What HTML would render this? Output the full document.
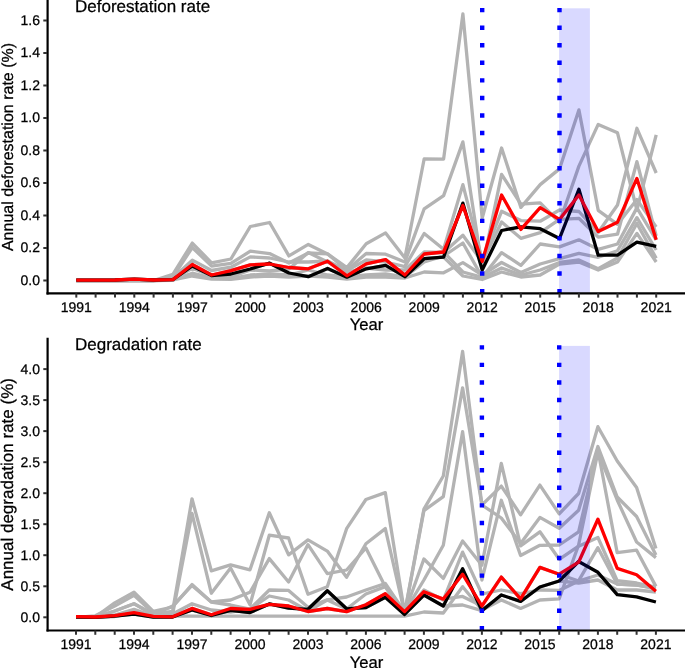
<!DOCTYPE html>
<html><head><meta charset="utf-8"><style>
html,body{margin:0;padding:0;background:#fff;}
body{width:685px;height:668px;overflow:hidden;}
svg{display:block;will-change:transform;}
text{font-family:"Liberation Sans",sans-serif;fill:#000;text-rendering:geometricPrecision;stroke:#000;stroke-width:0.25px;}
.tk{font-size:14px;fill:#000;}
.tt{font-size:17px;}
.ax{font-size:16px;}
</style></head><body>
<svg width="685" height="668" viewBox="0 0 685 668">
<rect width="685" height="668" fill="#fff"/>
<polyline points="76.3,280.5 95.6,280.5 115.0,280.5 134.3,280.0 153.6,280.5 172.9,274.3 192.3,243.1 211.6,262.8 230.9,259.0 250.3,226.5 269.6,222.5 288.9,255.9 308.3,244.4 327.6,253.9 346.9,267.6 366.2,243.8 385.6,232.9 404.9,258.0 424.2,158.8 443.6,159.1 462.9,14.0 482.2,218.0 501.6,148.0 520.9,207.4 540.2,184.6 559.5,168.9 578.9,109.9 598.2,210.3 617.5,224.3 636.9,199.6 656.2,226.9" fill="none" stroke="#b3b3b3" stroke-width="3.3" stroke-linejoin="round" stroke-linecap="butt"/>
<polyline points="76.3,280.5 95.6,280.5 115.0,280.5 134.3,280.5 153.6,280.5 172.9,277.0 192.3,247.5 211.6,266.1 230.9,263.4 250.3,251.2 269.6,253.6 288.9,263.0 308.3,253.0 327.6,253.9 346.9,270.0 366.2,253.5 385.6,254.2 404.9,262.0 424.2,208.8 443.6,195.6 462.9,141.9 482.2,268.0 501.6,174.4 520.9,204.2 540.2,202.8 559.5,222.5 578.9,166.1 598.2,124.4 617.5,132.8 636.9,210.0 656.2,134.8" fill="none" stroke="#b3b3b3" stroke-width="3.3" stroke-linejoin="round" stroke-linecap="butt"/>
<polyline points="76.3,280.5 95.6,280.5 115.0,280.5 134.3,280.5 153.6,280.5 172.9,278.0 192.3,260.1 211.6,270.5 230.9,267.2 250.3,256.9 269.6,258.0 288.9,262.0 308.3,262.0 327.6,261.0 346.9,270.5 366.2,260.0 385.6,262.0 404.9,266.6 424.2,233.5 443.6,249.2 462.9,184.6 482.2,260.0 501.6,211.3 520.9,220.6 540.2,221.2 559.5,210.0 578.9,211.5 598.2,232.5 617.5,205.0 636.9,128.3 656.2,173.0" fill="none" stroke="#b3b3b3" stroke-width="3.3" stroke-linejoin="round" stroke-linecap="butt"/>
<polyline points="76.3,280.5 95.6,280.5 115.0,280.5 134.3,280.5 153.6,280.5 172.9,279.0 192.3,268.3 211.6,276.0 230.9,277.0 250.3,270.0 269.6,271.0 288.9,269.0 308.3,252.6 327.6,262.0 346.9,272.0 366.2,268.0 385.6,270.0 404.9,270.0 424.2,252.0 443.6,252.5 462.9,235.2 482.2,262.0 501.6,222.0 520.9,238.3 540.2,232.7 559.5,219.3 578.9,218.3 598.2,237.1 617.5,234.2 636.9,161.7 656.2,235.8" fill="none" stroke="#b3b3b3" stroke-width="3.3" stroke-linejoin="round" stroke-linecap="butt"/>
<polyline points="76.3,280.5 95.6,280.5 115.0,280.5 134.3,280.5 153.6,280.5 172.9,279.5 192.3,273.2 211.6,278.0 230.9,278.5 250.3,275.0 269.6,274.0 288.9,275.0 308.3,270.0 327.6,275.0 346.9,277.0 366.2,275.0 385.6,274.0 404.9,277.0 424.2,262.0 443.6,256.0 462.9,243.0 482.2,277.2 501.6,252.6 520.9,265.4 540.2,244.0 559.5,246.9 578.9,239.8 598.2,249.3 617.5,244.0 636.9,207.9 656.2,240.0" fill="none" stroke="#b3b3b3" stroke-width="3.3" stroke-linejoin="round" stroke-linecap="butt"/>
<polyline points="76.3,280.5 95.6,280.5 115.0,280.5 134.3,280.5 153.6,280.5 172.9,280.0 192.3,276.0 211.6,279.0 230.9,279.3 250.3,277.0 269.6,276.0 288.9,277.0 308.3,276.0 327.6,277.0 346.9,279.0 366.2,277.0 385.6,277.0 404.9,278.0 424.2,272.0 443.6,272.8 462.9,262.6 482.2,275.0 501.6,262.5 520.9,272.5 540.2,264.0 559.5,258.6 578.9,253.3 598.2,257.3 617.5,250.7 636.9,217.7 656.2,250.0" fill="none" stroke="#b3b3b3" stroke-width="3.3" stroke-linejoin="round" stroke-linecap="butt"/>
<polyline points="76.3,280.2 95.6,280.2 115.0,280.0 134.3,279.2 153.6,280.0 172.9,279.6 192.3,264.5 211.6,275.0 230.9,270.6 250.3,264.8 269.6,264.0 288.9,267.5 308.3,268.8 327.6,261.2 346.9,275.8 366.2,263.9 385.6,259.6 404.9,275.0 424.2,254.0 443.6,252.0 462.9,272.0 482.2,277.4 501.6,268.0 520.9,275.0 540.2,270.0 559.5,262.5 578.9,260.0 598.2,268.8 617.5,258.0 636.9,223.5 656.2,258.3" fill="none" stroke="#b3b3b3" stroke-width="3.3" stroke-linejoin="round" stroke-linecap="butt"/>
<polyline points="76.3,280.5 95.6,280.5 115.0,280.4 134.3,280.0 153.6,280.5 172.9,280.4 192.3,266.0 211.6,275.5 230.9,274.0 250.3,269.0 269.6,263.2 288.9,273.0 308.3,276.7 327.6,268.5 346.9,277.2 366.2,268.8 385.6,265.4 404.9,276.7 424.2,258.7 443.6,257.1 462.9,276.0 482.2,279.5 501.6,272.0 520.9,277.0 540.2,275.0 559.5,264.0 578.9,262.0 598.2,270.0 617.5,262.0 636.9,233.4 656.2,262.0" fill="none" stroke="#b3b3b3" stroke-width="3.3" stroke-linejoin="round" stroke-linecap="butt"/>
<polyline points="76.3,280.2 95.6,280.2 115.0,280.0 134.3,279.2 153.6,280.0 172.9,279.6 192.3,266.0 211.6,275.5 230.9,274.0 250.3,269.0 269.6,263.2 288.9,273.0 308.3,276.7 327.6,268.5 346.9,277.2 366.2,268.8 385.6,265.4 404.9,276.7 424.2,258.7 443.6,257.1 462.9,203.1 482.2,270.0 501.6,230.5 520.9,226.8 540.2,228.7 559.5,238.5 578.9,189.3 598.2,255.2 617.5,255.2 636.9,242.1 656.2,246.4" fill="none" stroke="#000000" stroke-width="3.3" stroke-linejoin="round" stroke-linecap="butt"/>
<polyline points="76.3,280.2 95.6,280.2 115.0,280.0 134.3,279.2 153.6,280.0 172.9,279.6 192.3,264.5 211.6,275.0 230.9,270.6 250.3,264.8 269.6,264.0 288.9,267.5 308.3,268.8 327.6,261.2 346.9,275.8 366.2,263.9 385.6,259.6 404.9,275.0 424.2,254.0 443.6,252.0 462.9,205.5 482.2,261.5 501.6,195.0 520.9,229.4 540.2,207.6 559.5,219.5 578.9,195.0 598.2,231.4 617.5,222.2 636.9,178.4 656.2,239.8" fill="none" stroke="#ff0000" stroke-width="3.3" stroke-linejoin="round" stroke-linecap="butt"/>
<rect x="559.1" y="8.3" width="30.8" height="285.0" fill="rgba(0,0,255,0.15)"/>
<line x1="482.2" y1="293.3" x2="482.2" y2="-5.0" stroke="#0000ff" stroke-width="4.4" stroke-dasharray="4.4 13.160"/>
<line x1="559.5" y1="293.3" x2="559.5" y2="-5.0" stroke="#0000ff" stroke-width="4.4" stroke-dasharray="4.4 13.160"/>
<line x1="47.6" y1="-5.0" x2="47.6" y2="294.4" stroke="#000" stroke-width="2.2"/>
<line x1="46.5" y1="293.3" x2="685" y2="293.3" stroke="#000" stroke-width="2.2"/>
<line x1="43.3" y1="280.5" x2="47" y2="280.5" stroke="#333" stroke-width="2"/>
<text x="40" y="284.9" text-anchor="end" class="tk">0.0</text>
<line x1="43.3" y1="248.0" x2="47" y2="248.0" stroke="#333" stroke-width="2"/>
<text x="40" y="252.4" text-anchor="end" class="tk">0.2</text>
<line x1="43.3" y1="215.5" x2="47" y2="215.5" stroke="#333" stroke-width="2"/>
<text x="40" y="219.9" text-anchor="end" class="tk">0.4</text>
<line x1="43.3" y1="183.0" x2="47" y2="183.0" stroke="#333" stroke-width="2"/>
<text x="40" y="187.4" text-anchor="end" class="tk">0.6</text>
<line x1="43.3" y1="150.5" x2="47" y2="150.5" stroke="#333" stroke-width="2"/>
<text x="40" y="154.9" text-anchor="end" class="tk">0.8</text>
<line x1="43.3" y1="118.0" x2="47" y2="118.0" stroke="#333" stroke-width="2"/>
<text x="40" y="122.4" text-anchor="end" class="tk">1.0</text>
<line x1="43.3" y1="85.5" x2="47" y2="85.5" stroke="#333" stroke-width="2"/>
<text x="40" y="89.9" text-anchor="end" class="tk">1.2</text>
<line x1="43.3" y1="53.0" x2="47" y2="53.0" stroke="#333" stroke-width="2"/>
<text x="40" y="57.4" text-anchor="end" class="tk">1.4</text>
<line x1="43.3" y1="20.5" x2="47" y2="20.5" stroke="#333" stroke-width="2"/>
<text x="40" y="24.9" text-anchor="end" class="tk">1.6</text>
<line x1="76.3" y1="293.3" x2="76.3" y2="297.6" stroke="#333" stroke-width="2"/>
<text x="76.3" y="311.6" text-anchor="middle" class="tk">1991</text>
<line x1="95.6" y1="293.3" x2="95.6" y2="297.6" stroke="#333" stroke-width="2"/>
<line x1="115.0" y1="293.3" x2="115.0" y2="297.6" stroke="#333" stroke-width="2"/>
<line x1="134.3" y1="293.3" x2="134.3" y2="297.6" stroke="#333" stroke-width="2"/>
<text x="134.3" y="311.6" text-anchor="middle" class="tk">1994</text>
<line x1="153.6" y1="293.3" x2="153.6" y2="297.6" stroke="#333" stroke-width="2"/>
<line x1="172.9" y1="293.3" x2="172.9" y2="297.6" stroke="#333" stroke-width="2"/>
<line x1="192.3" y1="293.3" x2="192.3" y2="297.6" stroke="#333" stroke-width="2"/>
<text x="192.3" y="311.6" text-anchor="middle" class="tk">1997</text>
<line x1="211.6" y1="293.3" x2="211.6" y2="297.6" stroke="#333" stroke-width="2"/>
<line x1="230.9" y1="293.3" x2="230.9" y2="297.6" stroke="#333" stroke-width="2"/>
<line x1="250.3" y1="293.3" x2="250.3" y2="297.6" stroke="#333" stroke-width="2"/>
<text x="250.3" y="311.6" text-anchor="middle" class="tk">2000</text>
<line x1="269.6" y1="293.3" x2="269.6" y2="297.6" stroke="#333" stroke-width="2"/>
<line x1="288.9" y1="293.3" x2="288.9" y2="297.6" stroke="#333" stroke-width="2"/>
<line x1="308.3" y1="293.3" x2="308.3" y2="297.6" stroke="#333" stroke-width="2"/>
<text x="308.3" y="311.6" text-anchor="middle" class="tk">2003</text>
<line x1="327.6" y1="293.3" x2="327.6" y2="297.6" stroke="#333" stroke-width="2"/>
<line x1="346.9" y1="293.3" x2="346.9" y2="297.6" stroke="#333" stroke-width="2"/>
<line x1="366.2" y1="293.3" x2="366.2" y2="297.6" stroke="#333" stroke-width="2"/>
<text x="366.2" y="311.6" text-anchor="middle" class="tk">2006</text>
<line x1="385.6" y1="293.3" x2="385.6" y2="297.6" stroke="#333" stroke-width="2"/>
<line x1="404.9" y1="293.3" x2="404.9" y2="297.6" stroke="#333" stroke-width="2"/>
<line x1="424.2" y1="293.3" x2="424.2" y2="297.6" stroke="#333" stroke-width="2"/>
<text x="424.2" y="311.6" text-anchor="middle" class="tk">2009</text>
<line x1="443.6" y1="293.3" x2="443.6" y2="297.6" stroke="#333" stroke-width="2"/>
<line x1="462.9" y1="293.3" x2="462.9" y2="297.6" stroke="#333" stroke-width="2"/>
<line x1="482.2" y1="293.3" x2="482.2" y2="297.6" stroke="#333" stroke-width="2"/>
<text x="482.2" y="311.6" text-anchor="middle" class="tk">2012</text>
<line x1="501.6" y1="293.3" x2="501.6" y2="297.6" stroke="#333" stroke-width="2"/>
<line x1="520.9" y1="293.3" x2="520.9" y2="297.6" stroke="#333" stroke-width="2"/>
<line x1="540.2" y1="293.3" x2="540.2" y2="297.6" stroke="#333" stroke-width="2"/>
<text x="540.2" y="311.6" text-anchor="middle" class="tk">2015</text>
<line x1="559.5" y1="293.3" x2="559.5" y2="297.6" stroke="#333" stroke-width="2"/>
<line x1="578.9" y1="293.3" x2="578.9" y2="297.6" stroke="#333" stroke-width="2"/>
<line x1="598.2" y1="293.3" x2="598.2" y2="297.6" stroke="#333" stroke-width="2"/>
<text x="598.2" y="311.6" text-anchor="middle" class="tk">2018</text>
<line x1="617.5" y1="293.3" x2="617.5" y2="297.6" stroke="#333" stroke-width="2"/>
<line x1="636.9" y1="293.3" x2="636.9" y2="297.6" stroke="#333" stroke-width="2"/>
<line x1="656.2" y1="293.3" x2="656.2" y2="297.6" stroke="#333" stroke-width="2"/>
<text x="656.2" y="311.6" text-anchor="middle" class="tk">2021</text>
<text x="75" y="12.3" class="tt">Deforestation rate</text>
<text x="366.6" y="330.3" text-anchor="middle" class="ax" style="font-size:16.6px">Year</text>
<text transform="translate(13.0,147.0) rotate(-90)" text-anchor="middle" style="font-size:16px" class="ax">Annual deforestation rate (%)</text>
<polyline points="76.0,617.3 95.3,617.0 114.7,611.0 134.0,603.7 153.3,614.0 172.6,611.4 192.0,498.8 211.3,570.8 230.6,564.9 250.0,569.8 269.3,512.8 288.6,554.9 308.0,539.9 327.3,551.1 346.6,577.3 365.9,543.8 385.3,528.6 404.6,613.0 423.9,559.0 443.3,578.4 462.6,541.0 481.9,565.2 501.3,463.4 520.6,545.9 539.9,531.8 559.2,559.3 578.6,546.2 597.9,537.5 617.2,580.7 636.6,583.0 655.9,587.0" fill="none" stroke="#b3b3b3" stroke-width="3.3" stroke-linejoin="round" stroke-linecap="butt"/>
<polyline points="76.0,617.3 95.3,615.8 114.7,606.1 134.0,595.4 153.3,613.0 172.6,614.2 192.0,513.4 211.3,593.2 230.6,567.9 250.0,604.8 269.3,535.2 288.6,538.0 308.0,594.2 327.3,586.7 346.6,528.7 365.9,499.5 385.3,492.6 404.6,613.0 423.9,509.2 443.3,476.0 462.6,351.5 481.9,505.0 501.3,486.1 520.6,514.8 539.9,485.1 559.2,513.9 578.6,493.5 597.9,426.7 617.2,461.0 636.6,487.4 655.9,548.4" fill="none" stroke="#b3b3b3" stroke-width="3.3" stroke-linejoin="round" stroke-linecap="butt"/>
<polyline points="76.0,617.3 95.3,617.0 114.7,602.9 134.0,592.2 153.3,611.4 172.6,607.0 192.0,584.5 211.3,601.9 230.6,600.0 250.0,592.2 269.3,558.6 288.6,582.0 308.0,544.6 327.3,573.6 346.6,570.0 365.9,548.0 385.3,586.7 404.6,614.0 423.9,510.6 443.3,496.7 462.6,387.8 481.9,505.0 501.3,518.0 520.6,543.5 539.9,517.4 559.2,528.2 578.6,510.3 597.9,446.5 617.2,497.0 636.6,516.5 655.9,555.0" fill="none" stroke="#b3b3b3" stroke-width="3.3" stroke-linejoin="round" stroke-linecap="butt"/>
<polyline points="76.0,617.3 95.3,617.3 114.7,611.0 134.0,603.7 153.3,615.0 172.6,606.1 192.0,585.4 211.3,602.0 230.6,605.0 250.0,609.0 269.3,590.0 288.6,590.4 308.0,607.3 327.3,599.8 346.6,597.0 365.9,590.0 385.3,583.5 404.6,612.0 423.9,580.0 443.3,545.2 462.6,431.7 481.9,580.0 501.3,500.3 520.6,555.5 539.9,545.3 559.2,545.0 578.6,531.8 597.9,450.0 617.2,552.7 636.6,550.2 655.9,586.4" fill="none" stroke="#b3b3b3" stroke-width="3.3" stroke-linejoin="round" stroke-linecap="butt"/>
<polyline points="76.0,617.3 95.3,617.3 114.7,615.0 134.0,609.3 153.3,616.0 172.6,614.0 192.0,603.7 211.3,610.0 230.6,612.0 250.0,609.0 269.3,596.0 288.6,600.0 308.0,611.0 327.3,600.0 346.6,609.0 365.9,594.0 385.3,586.6 404.6,614.0 423.9,590.0 443.3,600.0 462.6,552.1 481.9,594.0 501.3,590.0 520.6,593.6 539.9,590.0 559.2,590.4 578.6,580.9 597.9,547.7 617.2,584.0 636.6,585.0 655.9,589.0" fill="none" stroke="#b3b3b3" stroke-width="3.3" stroke-linejoin="round" stroke-linecap="butt"/>
<polyline points="76.0,617.3 95.3,617.3 114.7,616.5 134.0,613.0 153.3,617.0 172.6,616.0 192.0,616.2 211.3,616.2 230.6,616.2 250.0,616.2 269.3,616.2 288.6,616.2 308.0,616.2 327.3,616.2 346.6,616.2 365.9,616.2 385.3,616.2 404.6,616.2 423.9,612.0 443.3,613.0 462.6,586.7 481.9,610.0 501.3,600.0 520.6,608.4 539.9,600.0 559.2,598.8 578.6,545.0 597.9,452.0 617.2,500.0 636.6,542.0 655.9,557.6" fill="none" stroke="#b3b3b3" stroke-width="3.3" stroke-linejoin="round" stroke-linecap="butt"/>
<polyline points="76.0,616.6 95.3,617.0 114.7,615.6 134.0,612.7 153.3,616.4 172.6,616.8 192.0,608.4 211.3,614.8 230.6,608.5 250.0,609.3 269.3,604.3 288.6,606.0 308.0,611.5 327.3,608.5 346.6,611.6 365.9,604.7 385.3,593.6 404.6,611.6 423.9,591.7 443.3,599.1 462.6,596.4 481.9,606.0 501.3,577.1 520.6,598.8 539.9,567.4 559.2,574.2 578.6,581.0 597.9,575.0 617.2,584.0 636.6,585.0 655.9,588.0" fill="none" stroke="#b3b3b3" stroke-width="3.3" stroke-linejoin="round" stroke-linecap="butt"/>
<polyline points="76.0,617.0 95.3,617.3 114.7,616.0 134.0,614.0 153.3,617.0 172.6,617.0 192.0,610.0 211.3,615.5 230.6,610.4 250.0,612.6 269.3,603.9 288.6,608.2 308.0,609.3 327.3,590.7 346.6,608.8 365.9,607.5 385.3,597.2 404.6,614.4 423.9,595.0 443.3,606.0 462.6,605.0 481.9,610.6 501.3,595.0 520.6,601.4 539.9,587.0 559.2,581.0 578.6,583.0 597.9,580.0 617.2,590.0 636.6,590.0 655.9,592.0" fill="none" stroke="#b3b3b3" stroke-width="3.3" stroke-linejoin="round" stroke-linecap="butt"/>
<polyline points="76.0,617.0 95.3,617.3 114.7,616.0 134.0,614.0 153.3,617.0 172.6,617.0 192.0,610.0 211.3,615.5 230.6,610.4 250.0,612.6 269.3,603.9 288.6,608.2 308.0,609.3 327.3,590.7 346.6,608.8 365.9,607.5 385.3,597.2 404.6,614.4 423.9,595.0 443.3,606.0 462.6,568.7 481.9,610.6 501.3,595.0 520.6,601.4 539.9,587.0 559.2,581.0 578.6,561.5 597.9,572.3 617.2,594.6 636.6,596.8 655.9,602.0" fill="none" stroke="#000000" stroke-width="3.3" stroke-linejoin="round" stroke-linecap="butt"/>
<polyline points="76.0,616.6 95.3,617.0 114.7,615.6 134.0,612.7 153.3,616.4 172.6,616.8 192.0,608.4 211.3,614.8 230.6,608.5 250.0,609.3 269.3,604.3 288.6,606.0 308.0,611.5 327.3,608.5 346.6,611.6 365.9,604.7 385.3,593.6 404.6,611.6 423.9,591.7 443.3,599.1 462.6,574.2 481.9,606.0 501.3,577.1 520.6,598.8 539.9,567.4 559.2,574.2 578.6,562.2 597.9,519.2 617.2,568.4 636.6,574.7 655.9,591.3" fill="none" stroke="#ff0000" stroke-width="3.3" stroke-linejoin="round" stroke-linecap="butt"/>
<rect x="559.1" y="345.9" width="30.8" height="284.6" fill="rgba(0,0,255,0.15)"/>
<line x1="481.9" y1="630.5" x2="481.9" y2="337.7" stroke="#0000ff" stroke-width="4.4" stroke-dasharray="4.4 13.160"/>
<line x1="559.2" y1="630.5" x2="559.2" y2="337.7" stroke="#0000ff" stroke-width="4.4" stroke-dasharray="4.4 13.160"/>
<line x1="47.6" y1="337.7" x2="47.6" y2="631.6" stroke="#000" stroke-width="2.2"/>
<line x1="46.5" y1="630.5" x2="685" y2="630.5" stroke="#000" stroke-width="2.2"/>
<line x1="43.3" y1="617.3" x2="47" y2="617.3" stroke="#333" stroke-width="2"/>
<text x="40" y="621.7" text-anchor="end" class="tk">0.0</text>
<line x1="43.3" y1="586.3" x2="47" y2="586.3" stroke="#333" stroke-width="2"/>
<text x="40" y="590.7" text-anchor="end" class="tk">0.5</text>
<line x1="43.3" y1="555.2" x2="47" y2="555.2" stroke="#333" stroke-width="2"/>
<text x="40" y="559.6" text-anchor="end" class="tk">1.0</text>
<line x1="43.3" y1="524.2" x2="47" y2="524.2" stroke="#333" stroke-width="2"/>
<text x="40" y="528.6" text-anchor="end" class="tk">1.5</text>
<line x1="43.3" y1="493.2" x2="47" y2="493.2" stroke="#333" stroke-width="2"/>
<text x="40" y="497.6" text-anchor="end" class="tk">2.0</text>
<line x1="43.3" y1="462.2" x2="47" y2="462.2" stroke="#333" stroke-width="2"/>
<text x="40" y="466.6" text-anchor="end" class="tk">2.5</text>
<line x1="43.3" y1="431.1" x2="47" y2="431.1" stroke="#333" stroke-width="2"/>
<text x="40" y="435.5" text-anchor="end" class="tk">3.0</text>
<line x1="43.3" y1="400.1" x2="47" y2="400.1" stroke="#333" stroke-width="2"/>
<text x="40" y="404.5" text-anchor="end" class="tk">3.5</text>
<line x1="43.3" y1="369.1" x2="47" y2="369.1" stroke="#333" stroke-width="2"/>
<text x="40" y="373.5" text-anchor="end" class="tk">4.0</text>
<line x1="76.0" y1="630.5" x2="76.0" y2="634.8" stroke="#333" stroke-width="2"/>
<text x="76.0" y="648.8" text-anchor="middle" class="tk">1991</text>
<line x1="95.3" y1="630.5" x2="95.3" y2="634.8" stroke="#333" stroke-width="2"/>
<line x1="114.7" y1="630.5" x2="114.7" y2="634.8" stroke="#333" stroke-width="2"/>
<line x1="134.0" y1="630.5" x2="134.0" y2="634.8" stroke="#333" stroke-width="2"/>
<text x="134.0" y="648.8" text-anchor="middle" class="tk">1994</text>
<line x1="153.3" y1="630.5" x2="153.3" y2="634.8" stroke="#333" stroke-width="2"/>
<line x1="172.6" y1="630.5" x2="172.6" y2="634.8" stroke="#333" stroke-width="2"/>
<line x1="192.0" y1="630.5" x2="192.0" y2="634.8" stroke="#333" stroke-width="2"/>
<text x="192.0" y="648.8" text-anchor="middle" class="tk">1997</text>
<line x1="211.3" y1="630.5" x2="211.3" y2="634.8" stroke="#333" stroke-width="2"/>
<line x1="230.6" y1="630.5" x2="230.6" y2="634.8" stroke="#333" stroke-width="2"/>
<line x1="250.0" y1="630.5" x2="250.0" y2="634.8" stroke="#333" stroke-width="2"/>
<text x="250.0" y="648.8" text-anchor="middle" class="tk">2000</text>
<line x1="269.3" y1="630.5" x2="269.3" y2="634.8" stroke="#333" stroke-width="2"/>
<line x1="288.6" y1="630.5" x2="288.6" y2="634.8" stroke="#333" stroke-width="2"/>
<line x1="308.0" y1="630.5" x2="308.0" y2="634.8" stroke="#333" stroke-width="2"/>
<text x="308.0" y="648.8" text-anchor="middle" class="tk">2003</text>
<line x1="327.3" y1="630.5" x2="327.3" y2="634.8" stroke="#333" stroke-width="2"/>
<line x1="346.6" y1="630.5" x2="346.6" y2="634.8" stroke="#333" stroke-width="2"/>
<line x1="365.9" y1="630.5" x2="365.9" y2="634.8" stroke="#333" stroke-width="2"/>
<text x="365.9" y="648.8" text-anchor="middle" class="tk">2006</text>
<line x1="385.3" y1="630.5" x2="385.3" y2="634.8" stroke="#333" stroke-width="2"/>
<line x1="404.6" y1="630.5" x2="404.6" y2="634.8" stroke="#333" stroke-width="2"/>
<line x1="423.9" y1="630.5" x2="423.9" y2="634.8" stroke="#333" stroke-width="2"/>
<text x="423.9" y="648.8" text-anchor="middle" class="tk">2009</text>
<line x1="443.3" y1="630.5" x2="443.3" y2="634.8" stroke="#333" stroke-width="2"/>
<line x1="462.6" y1="630.5" x2="462.6" y2="634.8" stroke="#333" stroke-width="2"/>
<line x1="481.9" y1="630.5" x2="481.9" y2="634.8" stroke="#333" stroke-width="2"/>
<text x="481.9" y="648.8" text-anchor="middle" class="tk">2012</text>
<line x1="501.3" y1="630.5" x2="501.3" y2="634.8" stroke="#333" stroke-width="2"/>
<line x1="520.6" y1="630.5" x2="520.6" y2="634.8" stroke="#333" stroke-width="2"/>
<line x1="539.9" y1="630.5" x2="539.9" y2="634.8" stroke="#333" stroke-width="2"/>
<text x="539.9" y="648.8" text-anchor="middle" class="tk">2015</text>
<line x1="559.2" y1="630.5" x2="559.2" y2="634.8" stroke="#333" stroke-width="2"/>
<line x1="578.6" y1="630.5" x2="578.6" y2="634.8" stroke="#333" stroke-width="2"/>
<line x1="597.9" y1="630.5" x2="597.9" y2="634.8" stroke="#333" stroke-width="2"/>
<text x="597.9" y="648.8" text-anchor="middle" class="tk">2018</text>
<line x1="617.2" y1="630.5" x2="617.2" y2="634.8" stroke="#333" stroke-width="2"/>
<line x1="636.6" y1="630.5" x2="636.6" y2="634.8" stroke="#333" stroke-width="2"/>
<line x1="655.9" y1="630.5" x2="655.9" y2="634.8" stroke="#333" stroke-width="2"/>
<text x="655.9" y="648.8" text-anchor="middle" class="tk">2021</text>
<text x="75" y="349.9" class="tt">Degradation rate</text>
<text x="366.6" y="668.0" text-anchor="middle" class="ax" style="font-size:16.6px">Year</text>
<text transform="translate(13.0,484.4) rotate(-90)" text-anchor="middle" style="font-size:17px" class="ax">Annual degradation rate (%)</text>
</svg>
</body></html>
